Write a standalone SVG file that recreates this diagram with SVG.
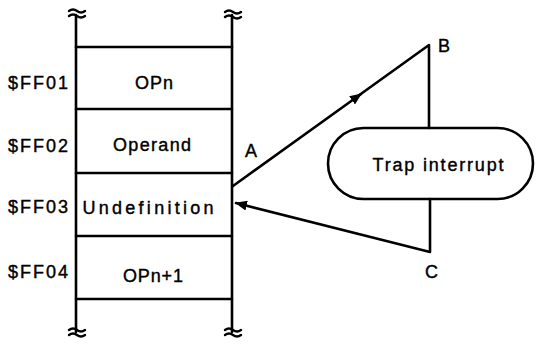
<svg xmlns="http://www.w3.org/2000/svg" width="538" height="350" viewBox="0 0 538 350">
<style>
.ln{stroke:#000;stroke-width:2.6;fill:none;stroke-linecap:round;stroke-linejoin:round}
.sq{stroke:#000;stroke-width:2.4;fill:none;stroke-linecap:round}
text{font-family:"Liberation Sans",Arial,sans-serif;font-size:18px;fill:#000;stroke:#000;stroke-width:0.4}
.c{text-anchor:middle}
</style>
<defs>
<marker id="ah" viewBox="0 0 12 10" refX="11" refY="5" markerWidth="12" markerHeight="10" markerUnits="userSpaceOnUse" orient="auto">
<path d="M0,0 L12,5 L0,10 Z" fill="#000"/>
</marker>
</defs>
<rect width="538" height="350" fill="#fff"/>
<g id="memory">
<path class="ln" d="M76,15 V332 M232,15 V332"/>
<path class="sq" d="M69,11 q4,-3 8,0 t8,0 M69,16 q4,-3 8,0 t8,0"/>
<path class="sq" d="M225,12 q4,-3 8,0 t8,0 M225,17 q4,-3 8,0 t8,0"/>
<path class="sq" d="M69,330 q4,-3 8,0 t8,0 M69,335 q4,-3 8,0 t8,0"/>
<path class="sq" d="M225,330 q4,-3 8,0 t8,0 M225,335 q4,-3 8,0 t8,0"/>
</g>
<g id="row1">
<path class="ln" d="M76,47 H232"/>
<text x="8" y="89" textLength="60" lengthAdjust="spacing">$FF01</text>
<text x="154" y="89" class="c" textLength="38" lengthAdjust="spacing">OPn</text>
</g>
<g id="row2">
<path class="ln" d="M76,109 H232"/>
<text x="8" y="152" textLength="60" lengthAdjust="spacing">$FF02</text>
<text x="152" y="151" class="c" textLength="78" lengthAdjust="spacing">Operand</text>
</g>
<g id="row3">
<path class="ln" d="M76,173 H232"/>
<text x="8" y="213" textLength="60" lengthAdjust="spacing">$FF03</text>
<text x="148" y="214" class="c" textLength="131" lengthAdjust="spacing">Undefinition</text>
</g>
<g id="row4">
<path class="ln" d="M76,236 H232 M76,299 H232"/>
<text x="8" y="278" textLength="60" lengthAdjust="spacing">$FF04</text>
<text x="153" y="282" class="c" textLength="60" lengthAdjust="spacing">OPn+1</text>
</g>
<g id="trap">
<rect class="ln" x="328" y="128" width="205" height="71" rx="35.5" ry="35.5"/>
<text x="438" y="171" class="c" textLength="131" lengthAdjust="spacing">Trap interrupt</text>
</g>
<g id="labelA"><text x="245" y="157">A</text></g>
<g id="labelB"><text x="438" y="52">B</text></g>
<g id="labelC"><text x="425" y="278">C</text></g>
<g id="connectors">
<path class="ln" d="M233,186 L361,94" marker-end="url(#ah)"/>
<path class="ln" d="M358,96 L429,45 V128"/>
<path class="ln" d="M430,199 V252 L236,203" marker-end="url(#ah)"/>
</g>
</svg>
